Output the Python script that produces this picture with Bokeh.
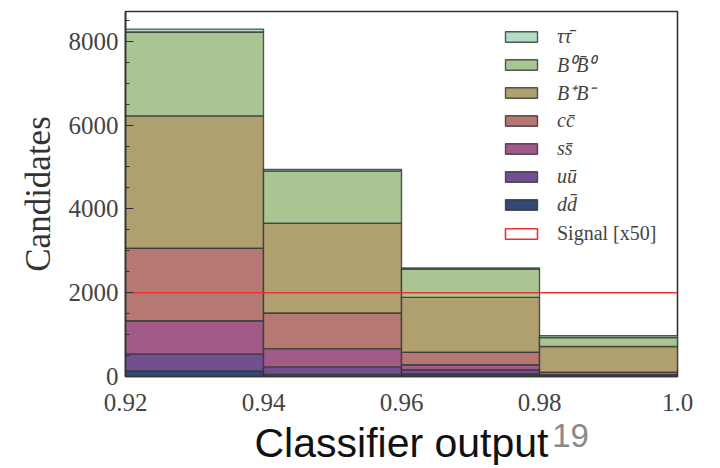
from bokeh.plotting import figure
from bokeh.models import FixedTicker, Legend, LegendItem, LinearAxis, Range1d
from bokeh.embed import file_html
from bokeh.resources import INLINE

# ---- data ----
bin_left = [0.92, 0.94, 0.96, 0.98]
bin_right = [0.94, 0.96, 0.98, 1.00]
dd = [130, 50, 60, 10]
uu = [410, 180, 100, 15]
ss = [790, 435, 120, 25]
cc = [1730, 850, 300, 52]
bpbm = [3160, 2145, 1308, 613]
b0b0 = [2000, 1240, 676, 215]
tautau = [70, 40, 26, 45]
signal_x50 = [2000, 2000, 2000, 2000]

series_names = ["dd\u0304", "uū", "ss\u0304", "cc\u0304", "B⁺B⁻", "B⁰B\u0304⁰", "ττ\u0304"]
series_values = [dd, uu, ss, cc, bpbm, b0b0, tautau]
series_colors = ["#334872", "#744f90", "#a25a88", "#b57872", "#b0a070", "#a9c591", "#b2dfc5"]
signal_label = "Signal [x50]"

x_ticks = [0.92, 0.94, 0.96, 0.98, 1.0]
y_ticks = [0, 2000, 4000, 6000, 8000]
y_minor = [500, 1000, 1500, 2500, 3000, 3500, 4500, 5000, 5500, 6500, 7000, 7500, 8500]
x_title = "Classifier output"
page_number = "19"
page_number_at = 0.9845

SERIF = "Liberation Serif"
SANS = "Liberation Sans"

p = figure(width=720, height=468, output_backend="svg", toolbar_location=None,
           x_range=Range1d(0.92, 1.0), y_range=Range1d(0, 8710),
           min_border_left=125, min_border_right=43, min_border_top=11, min_border_bottom=91)
p.grid.visible = False
p.background_fill_color = "white"
p.border_fill_color = "white"
p.outline_line_color = "#333333"
p.outline_line_width = 1.6

renderers = []
bottom = [0, 0, 0, 0]
for vals, col in zip(series_values, series_colors):
    top = [b + v for b, v in zip(bottom, vals)]
    r = p.quad(left=bin_left, right=bin_right, bottom=bottom, top=top,
               fill_color=col, line_color="#3a3a3a", line_alpha=0.85, line_width=1.4)
    renderers.append(r)
    bottom = top

sig = p.quad(left=bin_left, right=bin_right, bottom=signal_x50, top=signal_x50,
             fill_color="white", line_color="#ee3030", line_width=1.6)

# axes
p.xaxis.ticker = FixedTicker(ticks=x_ticks)
p.xaxis.major_label_overrides = {1: "1.0"}
p.yaxis.ticker = FixedTicker(ticks=y_ticks, minor_ticks=y_minor)
for axes in (p.xaxis, p.yaxis):
    axes.major_tick_in = 8
    axes.major_tick_out = 0
    axes.minor_tick_in = 4
    axes.minor_tick_out = 0
    axes.major_tick_line_color = "#333333"
    axes.minor_tick_line_color = "#333333"
    axes.axis_line_color = "#333333"
    axes.axis_line_width = 1.6
    axes.major_label_text_font = SERIF
    axes.major_label_text_font_size = "25px"
    axes.major_label_text_font_style = "normal"
    axes.major_label_text_color = "#444444"
p.xaxis.minor_tick_line_color = None
p.xaxis.major_label_standoff = 17
p.yaxis.major_label_standoff = 7
p.yaxis.axis_label = "Candidates"
p.yaxis.axis_label_text_font = SERIF
p.yaxis.axis_label_text_font_size = "35px"
p.yaxis.axis_label_text_font_style = "normal"
p.yaxis.axis_label_text_color = "#333333"
p.yaxis.axis_label_standoff = 8

# slide caption below the plot: "Classifier output" with page number 19
cap = LinearAxis(ticker=FixedTicker(ticks=[page_number_at]),
                 major_label_overrides={page_number_at: page_number},
                 axis_label=x_title)
cap.axis_line_color = None
cap.major_tick_line_color = None
cap.minor_tick_line_color = None
cap.major_tick_in = 0
cap.major_tick_out = 0
cap.major_label_standoff = 10
cap.major_label_text_font = SANS
cap.major_label_text_font_size = "33px"
cap.major_label_text_color = "#8a8a8a"
cap.axis_label_text_font = SANS
cap.axis_label_text_font_size = "41px"
cap.axis_label_text_font_style = "normal"
cap.axis_label_text_color = "#111111"
cap.axis_label_standoff = -30
p.add_layout(cap, "below")

# legends
items = [LegendItem(label=n, renderers=[r]) for n, r in zip(series_names, renderers)][::-1]
common = dict(orientation="vertical", glyph_width=40, glyph_height=13, label_standoff=16,
              label_height=28, spacing=0, padding=0, margin=0, border_line_color=None,
              background_fill_alpha=0, label_text_font=SERIF, label_text_font_size="20px",
              label_text_color="#444444")
leg1 = Legend(items=items, location=(376, 158), label_text_font_style="italic", **common)
leg2 = Legend(items=[LegendItem(label=signal_label, renderers=[sig])], location=(376, 129),
              label_text_font_style="normal", **common)
p.add_layout(leg1)
p.add_layout(leg2)

open("out.html", "w").write(file_html(p, INLINE))
